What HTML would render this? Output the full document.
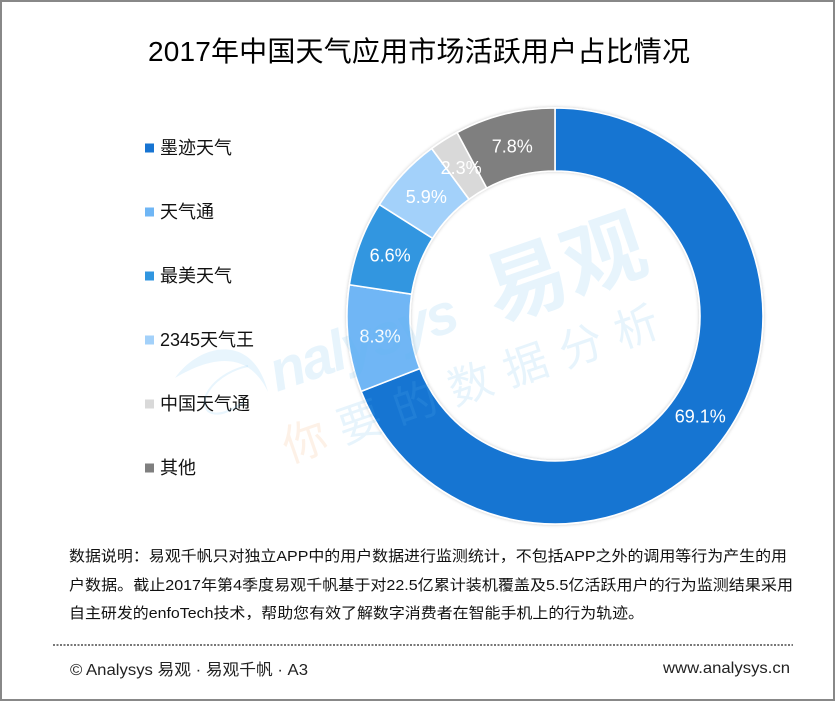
<!DOCTYPE html>
<html lang="zh">
<head>
<meta charset="utf-8">
<title>2017年中国天气应用市场活跃用户占比情况</title>
<style>
html,body{margin:0;padding:0;background:#fff;width:835px;height:702px;overflow:hidden}
svg{display:block}
text{font-family:"Liberation Sans","Noto Sans CJK SC",sans-serif}
</style>
</head>
<body>
<svg id="chart" width="835" height="702" viewBox="0 0 835 702" xmlns="http://www.w3.org/2000/svg">
  <defs>
    <filter id="soft" x="-5%" y="-5%" width="110%" height="110%">
      <feDropShadow dx="0" dy="0" stdDeviation="1.5" flood-color="#000" flood-opacity="0.22"/>
    </filter>
  </defs>
  <rect x="1" y="1" width="833" height="699" fill="#fff" stroke="#888" stroke-width="2"/>
  <text x="148" y="61" font-size="28" fill="#000" textLength="542">2017年中国天气应用市场活跃用户占比情况</text>
  <g id="legend"></g>
  <g id="donut" filter="url(#soft)"></g>
  <g id="labels"></g>
  <g pointer-events="none">
    <path d="M175 378 C198 345 252 330 268 392 C252 358 222 350 175 378Z" fill="#5cb8f0" opacity="0.14"/>
    <path d="M248 366 C218 372 196 398 208 411 C218 418 232 410 244 402" fill="none" stroke="#5cb8f0" stroke-width="2" opacity="0.14"/>
    <text transform="translate(277,392) rotate(-19)" font-size="57" font-weight="bold" font-style="italic" fill="#5cb8f0" opacity="0.14" textLength="196">nalysys</text>
    <text transform="translate(497,322) rotate(-19)" font-size="82" font-weight="bold" fill="#5cb8f0" opacity="0.14">易观</text>
    <text transform="translate(289,463) rotate(-19)" font-size="44" fill="#f5a05a" opacity="0.14">你</text>
    <text transform="translate(344,444) rotate(-19)" font-size="44" letter-spacing="14.5" fill="#5cb8f0" opacity="0.14">要的数据分析</text>
  </g>
  <text x="69" y="561" font-size="15" fill="#111" textLength="718" lengthAdjust="spacingAndGlyphs">数据说明：易观千帆只对独立APP中的用户数据进行监测统计，不包括APP之外的调用等行为产生的用</text>
  <text x="69" y="590" font-size="15" fill="#111" textLength="724" lengthAdjust="spacingAndGlyphs">户数据。截止2017年第4季度易观千帆基于对22.5亿累计装机覆盖及5.5亿活跃用户的行为监测结果采用</text>
  <text x="69" y="618" font-size="15" fill="#111" textLength="575" lengthAdjust="spacingAndGlyphs">自主研发的enfoTech技术，帮助您有效了解数字消费者在智能手机上的行为轨迹。</text>
  <line x1="53" y1="645" x2="793" y2="645" stroke="#777" stroke-width="2" stroke-dasharray="2 1.5"/>
  <text x="70" y="675" font-size="16" fill="#222" textLength="238" lengthAdjust="spacingAndGlyphs">© Analysys 易观 · 易观千帆 · A3</text>
  <text x="663" y="673" font-size="16" fill="#222" textLength="127" lengthAdjust="spacingAndGlyphs">www.analysys.cn</text>
</svg>
<script>
const categories = ['墨迹天气', '天气通', '最美天气', '2345天气王', '中国天气通', '其他'];
const shareValues = [69.1, 8.3, 6.6, 5.9, 2.3, 7.8];
const sliceColors = ['#1774d2', '#6fb6f5', '#3096e0', '#a3d1fa', '#d9d9d9', '#7f7f7f'];

const NS = 'http://www.w3.org/2000/svg';
const cx = 555, cy = 316, outerR = 208, innerR = 145, labelR = 176;
const legendTop = 148, legendStep = 64;
const total = shareValues.reduce((a, b) => a + b, 0);

function angleOf(v) { return v / total * 2 * Math.PI; }
function px(r, a) { return cx + r * Math.sin(a); }
function py(r, a) { return cy - r * Math.cos(a); }

const donut = document.getElementById('donut');
const labels = document.getElementById('labels');
const legend = document.getElementById('legend');
let cum = 0;
shareValues.forEach(function (v, i) {
  const a0 = angleOf(cum), a1 = angleOf(cum + v), mid = (a0 + a1) / 2;
  const large = a1 - a0 > Math.PI ? 1 : 0;
  const p = document.createElementNS(NS, 'path');
  p.setAttribute('d',
    'M' + px(outerR, a0) + ' ' + py(outerR, a0) +
    'A' + outerR + ' ' + outerR + ' 0 ' + large + ' 1 ' + px(outerR, a1) + ' ' + py(outerR, a1) +
    'L' + px(innerR, a1) + ' ' + py(innerR, a1) +
    'A' + innerR + ' ' + innerR + ' 0 ' + large + ' 0 ' + px(innerR, a0) + ' ' + py(innerR, a0) + 'Z');
  p.setAttribute('fill', sliceColors[i]);
  p.setAttribute('stroke', '#fff');
  p.setAttribute('stroke-width', '1.6');
  
  
  donut.appendChild(p);

  const t = document.createElementNS(NS, 'text');
  t.setAttribute('x', px(labelR, mid));
  t.setAttribute('y', py(labelR, mid) + 7);
  t.setAttribute('text-anchor', 'middle');
  t.setAttribute('font-size', '18');
  t.setAttribute('fill', '#fff');
  
  
  t.textContent = v.toFixed(1) + '%';
  labels.appendChild(t);

  const y = legendTop + i * legendStep;
  const s = document.createElementNS(NS, 'rect');
  s.setAttribute('x', 145);
  s.setAttribute('y', y - 4.5);
  s.setAttribute('width', 9);
  s.setAttribute('height', 9);
  s.setAttribute('fill', sliceColors[i]);
  
  
  legend.appendChild(s);

  const l = document.createElementNS(NS, 'text');
  l.setAttribute('x', 160);
  l.setAttribute('y', y + 6);
  l.setAttribute('font-size', '18');
  l.setAttribute('fill', '#111');
  
  
  l.textContent = categories[i];
  legend.appendChild(l);
  cum += v;
});
</script>
</body>
</html>
